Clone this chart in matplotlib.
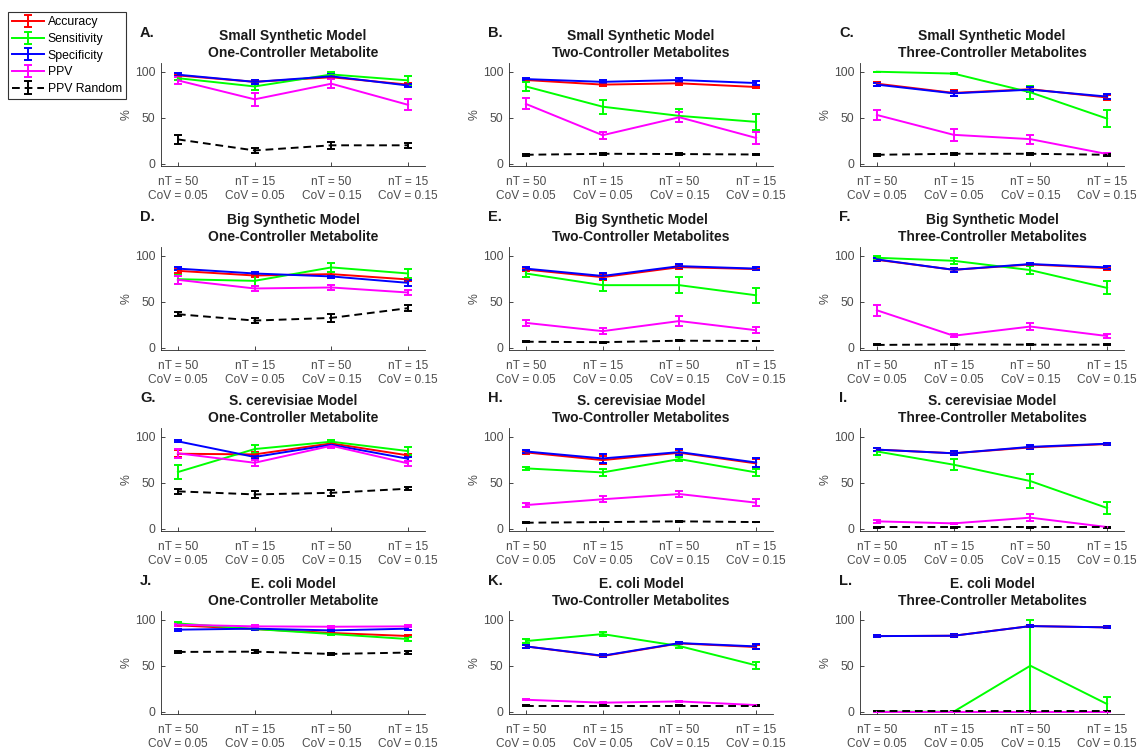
import matplotlib
matplotlib.use("Agg")
import matplotlib.pyplot as plt

plt.rcParams['font.family'] = ['Liberation Sans', 'DejaVu Sans']

# panels A..L, row-major; each row = 4 conditions
conditions = ['nT = 50\nCoV = 0.05', 'nT = 15\nCoV = 0.05', 'nT = 50\nCoV = 0.15', 'nT = 15\nCoV = 0.15']
panel_letters = ['A.', 'B.', 'C.', 'D.', 'E.', 'F.', 'G.', 'H.', 'I.', 'J.', 'K.', 'L.']
models = ['Small Synthetic Model', 'Big Synthetic Model', 'S. cerevisiae Model', 'E. coli Model']
controllers = ['One-Controller Metabolite', 'Two-Controller Metabolites', 'Three-Controller Metabolites']
series_names = ['Accuracy', 'Sensitivity', 'Specificity', 'PPV', 'PPV Random']

accuracy = [
    [96, 89, 94, 86], [91, 86, 87.4, 83.4], [87, 77, 81, 72],
    [83.6, 78.5, 80, 74.2], [85, 76.7, 87.6, 85.5], [95.6, 84.7, 90.5, 86.5],
    [81.5, 80.8, 92.8, 79.7], [83, 74.6, 82.6, 71], [86, 82, 88.4, 92],
    [93.9, 89.9, 85.6, 82.3], [71, 60.5, 74.3, 70.3], [82.2, 82.6, 93.1, 91.7],
]
accuracy_err = [
    [2, 2, 2, 2], [1.5, 1.5, 1.5, 1.5], [2, 3, 3, 3],
    [2, 2, 2, 2], [2, 3, 2, 1.5], [1.5, 2, 1, 1.5],
    [4, 3, 1.5, 2], [2, 4, 2.5, 5], [2, 2, 1.5, 1],
    [1, 1, 1.5, 1.5], [1.5, 1.5, 1, 2], [1, 1.5, 1.5, 1],
]
sensitivity = [
    [93, 84, 97, 90.6], [84, 62, 52, 45.5], [100, 98, 77.6, 49],
    [74.5, 72.7, 87.3, 80.7], [80.7, 68, 68, 57], [97.8, 94.5, 84.4, 65],
    [61.6, 86.6, 94.6, 84.4], [65.6, 61.2, 75.7, 61.2], [84, 69.6, 51.8, 22.5],
    [96, 89.9, 84.5, 79], [76.8, 84.4, 71.4, 50.4], [0, 0, 50, 8.3],
]
sensitivity_err = [
    [2, 4, 3, 4.5], [4.5, 7.5, 7, 8.5], [0, 1, 7, 9],
    [5, 6, 5, 5], [4, 6.5, 9, 8], [2, 3, 4, 7],
    [8, 4.5, 2, 4], [1.5, 4, 2.5, 4], [4, 6, 8, 6],
    [1, 1, 1.5, 2.5], [2, 2, 2, 4], [0, 0, 50, 7.3],
]
specificity = [
    [96.8, 89, 95, 85], [92, 89, 91, 87.7], [86, 76.5, 80.5, 73],
    [86, 80.7, 77.5, 70.5], [86, 78, 88.7, 86], [96, 84.7, 91, 87.3],
    [95, 78, 91.3, 76], [84, 76.4, 83.3, 72], [86, 82, 89, 92.4],
    [89.2, 90.3, 88.4, 90.3], [71, 60.9, 74.6, 71], [82.2, 82.6, 93.1, 91.7],
]
specificity_err = [
    [1.5, 2, 2, 2], [1.5, 1.5, 2, 2], [2, 2.5, 3, 2.5],
    [2, 2, 2, 3], [2, 3.5, 2.5, 1.5], [1.5, 2, 1, 2],
    [1, 2.5, 1.5, 2], [2, 5, 3, 5], [2, 2, 2, 1],
    [1, 1, 1.5, 1.5], [2, 1.5, 1, 2.5], [1, 1.5, 1.5, 1],
]
ppv = [
    [90.6, 70, 87, 64], [65, 31, 50.5, 28], [53, 31.4, 26.7, 10.5],
    [73.8, 64.4, 65.5, 60], [27, 18, 29, 19], [40.7, 13, 23, 12.7],
    [82, 71.7, 90.2, 71], [25.7, 32, 37.7, 28.3], [8, 5.8, 12, 1.8],
    [94.6, 92.8, 92.4, 92.8], [13, 9.8, 11.2, 7.2], [0, 0, 0, 0],
]
ppv_err = [
    [3.5, 7, 5, 6], [6, 4, 5.5, 7], [5.8, 6.7, 5, 1],
    [4, 3, 2.5, 3], [3, 3, 5, 3.5], [6, 1.5, 3.5, 2],
    [5, 3.5, 2, 3], [2.5, 3.5, 3.5, 3.5], [1.5, 0.5, 4, 0.5],
    [1, 1, 1, 1], [0.5, 1, 0.5, 0.5], [0, 0, 0, 0],
]
ppv_random = [
    [26.4, 14.4, 20, 20], [9.7, 10.8, 10.5, 10], [9.7, 10.8, 10.8, 9.7],
    [36.4, 29.5, 32.4, 43], [6.5, 6, 7.6, 7.3], [3, 3.6, 3.3, 3.3],
    [40.6, 37.3, 39, 43.5], [6.5, 7.2, 8, 7.2], [1.5, 1.5, 1.5, 1.5],
    [65, 65.3, 62.8, 64.3], [6.5, 6.5, 6.5, 6.5], [0.5, 0.5, 0.5, 0.5],
]
ppv_random_err = [
    [4.5, 3, 3.5, 3], [1, 1, 1, 1], [1, 1, 1, 1],
    [2, 2.5, 4, 3], [0.5, 0.5, 0.5, 0.5], [0.5, 0.5, 0.3, 0.3],
    [3, 3.5, 3.5, 1.5], [0.5, 0.3, 0.5, 0.3], [0.3, 0.3, 0.3, 0.3],
    [1, 1.5, 1, 1.5], [0.3, 0.3, 0.3, 0.3], [0.2, 0.2, 0.2, 0.2],
]

W, H = 1141, 751
col_left = [161, 509, 860]
row_bottom = [166, 350, 531, 714]
ax_w, ax_h = 264, 103

axis_gray = '#262626'
tick_gray = '#4d4d4d'

fig = plt.figure(figsize=(W / 100, H / 100), dpi=100)

x = [1, 2, 3, 4]
styles = [
    (accuracy, accuracy_err, 'red', '-'),
    (sensitivity, sensitivity_err, (0, 1, 0), '-'),
    (specificity, specificity_err, 'blue', '-'),
    (ppv, ppv_err, 'magenta', '-'),
    (ppv_random, ppv_random_err, 'black', (0, (4, 2.5))),
]

handles = None
for i in range(12):
    r, c = divmod(i, 3)
    ax = fig.add_axes([col_left[c] / W, 1 - row_bottom[r] / H, ax_w / W, ax_h / H])
    hs = []
    for vals, errs, color, ls in styles:
        h = ax.errorbar(x, vals[i], yerr=errs[i], color=color, linestyle=ls, lw=1.4,
                        elinewidth=1.4, capsize=3, capthick=1.4)
        hs.append(h)
    if handles is None:
        handles = hs

    ax.set_xlim(0.78, 4.22)
    ax.set_ylim(-2.5, 109.5)
    ax.set_yticks([0, 50, 100])
    ax.set_xticks(x)
    ax.set_xticklabels(conditions, fontsize=8.6, color=tick_gray, linespacing=1.3)
    ax.tick_params(axis='y', labelsize=8.8, labelcolor=tick_gray)
    ax.tick_params(direction='in', length=3, width=0.6, color=axis_gray)
    ax.tick_params(axis='x', pad=7)
    ax.tick_params(axis='y', pad=4)
    for s in ['top', 'right']:
        ax.spines[s].set_visible(False)
    for s in ['left', 'bottom']:
        ax.spines[s].set_color(axis_gray)
        ax.spines[s].set_linewidth(0.6)
    ax.set_ylabel('%', fontsize=8.8, color=tick_gray, labelpad=2)
    ax.set_title(models[r] + '\n' + controllers[c], fontsize=10, fontweight='bold',
                 color='#1a1a1a', linespacing=1.3, pad=4)
    ax.text(-21 / ax_w, 1 + 30 / ax_h, panel_letters[i], transform=ax.transAxes,
            fontsize=10.5, fontweight='bold', color='#1a1a1a', ha='left', va='center')

leg = fig.legend(handles, series_names, loc='upper left', bbox_to_anchor=(8 / W, 1 - 12 / H),
                 fontsize=8.8, handlelength=2.6, handletextpad=0.3, labelspacing=0.38,
                 borderpad=0.35, borderaxespad=0, fancybox=False, framealpha=1)
leg.get_frame().set_edgecolor('#333333')
leg.get_frame().set_linewidth(0.8)

fig.savefig('out.png', dpi=100)
